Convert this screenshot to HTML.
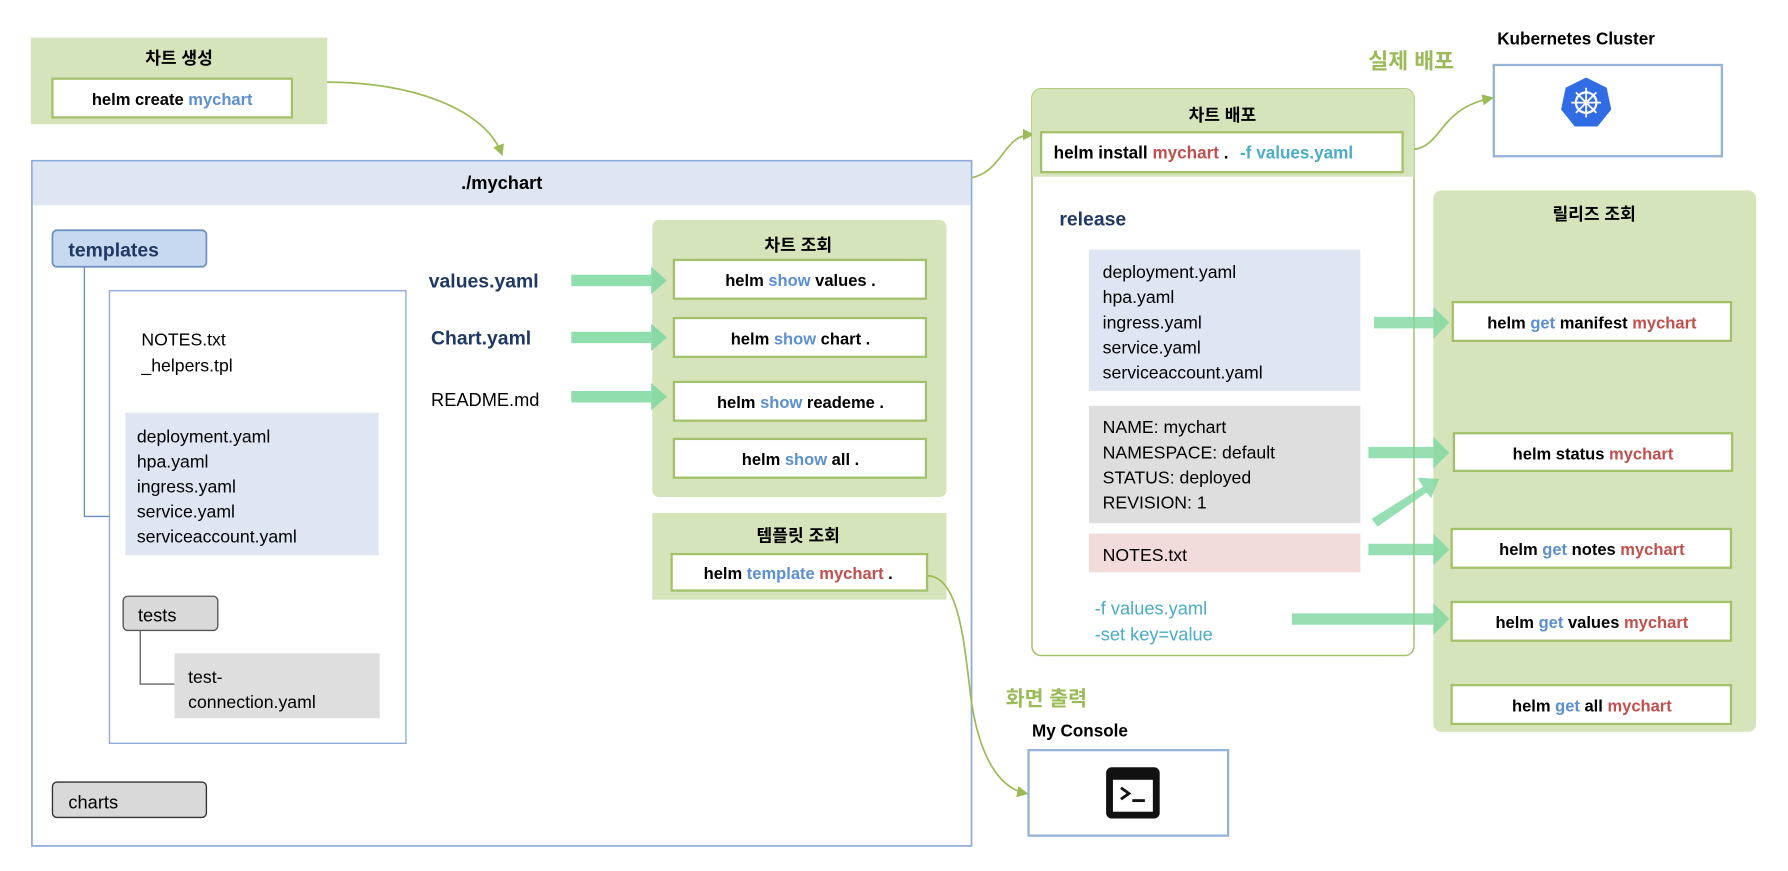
<!DOCTYPE html>
<html><head><meta charset="utf-8"><style>
html,body{margin:0;padding:0;background:#fff;}
svg{display:block;}
text{font-family:"Liberation Sans","Noto Sans CJK KR",sans-serif;}
.b{font-weight:bold;}
</style></head><body>
<svg width="1788" height="871" viewBox="0 0 1568 764" preserveAspectRatio="none" xmlns="http://www.w3.org/2000/svg">
<defs>
<marker id="ah" markerWidth="10" markerHeight="10" refX="8" refY="5" orient="auto" markerUnits="userSpaceOnUse"><path d="M0,0 L10,5 L0,10 z" fill="#9bbb59"/></marker>
</defs>
<rect width="1568" height="764" fill="#fff"/>

<!-- 차트 생성 -->
<rect x="27" y="33" width="260" height="76" fill="#d6e4bc"/>
<text x="157" y="56" font-size="15" class="b" text-anchor="middle">차트 생성</text>
<rect x="46" y="69" width="210" height="34" fill="#fff" stroke="#a3c16a" stroke-width="2"/>
<text x="151" y="92" font-size="14.5" class="b" text-anchor="middle">helm create <tspan fill="#5b8fcf">mychart</tspan></text>
<path d="M287,72 C360,72 425,95 440,135" fill="none" stroke="#9bbb59" stroke-width="1.5" marker-end="url(#ah)"/>

<!-- ./mychart -->
<rect x="28" y="141" width="824" height="601" fill="#fff" stroke="#8eaadb" stroke-width="1.5"/>
<rect x="29" y="142" width="822" height="38" fill="#dde6f2"/>
<text x="440" y="166" font-size="16" class="b" text-anchor="middle">./mychart</text>
<path d="M852,156 C880,150 880,118 905,118" fill="none" stroke="#9bbb59" stroke-width="1.5" marker-end="url(#ah)"/>

<rect x="46" y="202" width="135" height="32" rx="4" fill="#c6d9f1" stroke="#6c8ebf" stroke-width="1.5"/>
<text x="60" y="225" font-size="17" class="b" fill="#1f3864">templates</text>
<path d="M74,234 V453 H96" fill="none" stroke="#6c8ebf" stroke-width="1.2"/>
<rect x="96" y="255" width="260" height="397" fill="#fff" stroke="#8eaadb" stroke-width="1.2"/>
<text x="124" y="303" font-size="15.5">NOTES.txt</text>
<text x="124" y="326" font-size="15.5">_helpers.tpl</text>
<rect x="110" y="362" width="222" height="125" fill="#dde6f2"/>
<g font-size="15.5"><text x="120" y="388">deployment.yaml</text><text x="120" y="410">hpa.yaml</text><text x="120" y="432">ingress.yaml</text><text x="120" y="454">service.yaml</text><text x="120" y="476">serviceaccount.yaml</text></g>
<rect x="108" y="523" width="83" height="30" rx="4" fill="#d9d9d9" stroke="#555" stroke-width="1.2"/>
<text x="121" y="545" font-size="16">tests</text>
<path d="M123,553 V600 H153" fill="none" stroke="#666" stroke-width="1.2"/>
<rect x="153" y="573" width="180" height="57" fill="#dedede"/>
<text x="165" y="599" font-size="15.5">test-</text>
<text x="165" y="621" font-size="15.5">connection.yaml</text>
<rect x="46" y="686" width="135" height="31" rx="4" fill="#d9d9d9" stroke="#333" stroke-width="1.2"/>
<text x="60" y="709" font-size="16">charts</text>

<text x="376" y="252" font-size="17" class="b" fill="#1f3864">values.yaml</text>
<text x="378" y="302" font-size="17" class="b" fill="#1f3864">Chart.yaml</text>
<text x="378" y="356" font-size="16">README.md</text>

<!-- 차트 조회 -->
<rect x="572" y="193" width="258" height="243" rx="6" fill="#d6e4bc"/>
<text x="700" y="220" font-size="15" class="b" text-anchor="middle">차트 조회</text>
<g fill="#fff" stroke="#a3c16a" stroke-width="2">
<rect x="591" y="228" width="221" height="34"/><rect x="591" y="279" width="221" height="34"/><rect x="591" y="335" width="221" height="34"/><rect x="591" y="385" width="221" height="34"/></g>
<g font-size="14.5" class="b" text-anchor="middle">
<text x="702" y="251">helm <tspan fill="#5b8fcf">show</tspan> values .</text>
<text x="702" y="302">helm <tspan fill="#5b8fcf">show</tspan> chart .</text>
<text x="702" y="358">helm <tspan fill="#5b8fcf">show</tspan> reademe .</text>
<text x="702" y="408">helm <tspan fill="#5b8fcf">show</tspan> all .</text>
</g>
<g fill="#7dd8a0" opacity="0.85">
<path d="M501,241 h70 v-7 l14,12 l-14,12 v-7 h-70z"/>
<path d="M501,291 h70 v-7 l14,12 l-14,12 v-7 h-70z"/>
<path d="M501,343 h70 v-7 l14,12 l-14,12 v-7 h-70z"/>
</g>

<!-- 템플릿 조회 -->
<rect x="572" y="450" width="258" height="76" fill="#d6e4bc"/>
<text x="700" y="475" font-size="15" class="b" text-anchor="middle">템플릿 조회</text>
<rect x="589" y="486" width="224" height="32" fill="#fff" stroke="#a3c16a" stroke-width="2"/>
<text x="700" y="508" font-size="14.5" class="b" text-anchor="middle">helm <tspan fill="#5b8fcf">template</tspan> <tspan fill="#c0504d">mychart</tspan> .</text>
<path d="M813,505 C840,505 845,560 850,600 C855,650 870,690 900,696" fill="none" stroke="#9bbb59" stroke-width="1.5" marker-end="url(#ah)"/>

<!-- console -->
<text x="882" y="619" font-size="18" class="b" fill="#9bbb59">화면 출력</text>
<text x="905" y="646" font-size="15" class="b">My Console</text>
<rect x="902" y="658" width="175" height="75" fill="#fff" stroke="#95b3d7" stroke-width="2"/>
<rect x="970" y="673" width="47" height="45" rx="5" fill="#111"/>
<rect x="976" y="684" width="35" height="28" fill="#fff"/>
<path d="M983,691 l7,5 l-7,5" fill="none" stroke="#111" stroke-width="2.5"/>
<rect x="993" y="701" width="11" height="2.5" fill="#111"/>

<!-- 차트 배포 -->
<rect x="905" y="78" width="335" height="497" rx="8" fill="#fff" stroke="#a3c16a" stroke-width="1.3"/>
<path d="M913,78 h319 a8,8 0 0 1 8,8 v69 h-335 v-69 a8,8 0 0 1 8,-8z" fill="#d6e4bc"/>
<text x="1072" y="106" font-size="15" class="b" text-anchor="middle">차트 배포</text>
<rect x="913" y="116" width="317" height="35" fill="#fff" stroke="#a3c16a" stroke-width="2"/>
<text x="924" y="139" font-size="15" class="b">helm install <tspan fill="#c0504d">mychart</tspan> .  <tspan fill="#4bacc6" dx="6">-f values.yaml</tspan></text>
<text x="929" y="198" font-size="17" class="b" fill="#1f3864">release</text>
<rect x="955" y="219" width="238" height="124" fill="#dde6f2"/>
<g font-size="15.5"><text x="967" y="244">deployment.yaml</text><text x="967" y="266">hpa.yaml</text><text x="967" y="288">ingress.yaml</text><text x="967" y="310">service.yaml</text><text x="967" y="332">serviceaccount.yaml</text></g>
<rect x="955" y="356" width="238" height="103" fill="#dedede"/>
<g font-size="15.5"><text x="967" y="380">NAME: mychart</text><text x="967" y="402">NAMESPACE: default</text><text x="967" y="424">STATUS: deployed</text><text x="967" y="446">REVISION: 1</text></g>
<rect x="955" y="468" width="238" height="34" fill="#f2dcdb"/>
<text x="967" y="492" font-size="15.5">NOTES.txt</text>
<text x="960" y="539" font-size="16" fill="#4bacc6">-f values.yaml</text>
<text x="960" y="562" font-size="16" fill="#4bacc6">-set key=value</text>

<!-- k8s -->
<text x="1200" y="60" font-size="19" class="b" fill="#9bbb59">실제 배포</text>
<text x="1313" y="39" font-size="15" class="b">Kubernetes Cluster</text>
<rect x="1310" y="57" width="200" height="80" fill="#fff" stroke="#95b3d7" stroke-width="2"/>
<polygon points="1391,68 1409,77 1413,96 1401,111 1381,111 1369,96 1373,77" fill="#326ce5"/>
<circle cx="1391" cy="90" r="9" fill="none" stroke="#fff" stroke-width="2"/>
<g stroke="#fff" stroke-width="1.6"><path d="M1391,77 V103 M1378,90 H1404 M1382,81 L1400,99 M1400,81 L1382,99"/></g>
<path d="M1240,131 C1265,128 1262,95 1308,86" fill="none" stroke="#9bbb59" stroke-width="1.5" marker-end="url(#ah)"/>

<!-- 릴리즈 조회 -->
<rect x="1257" y="167" width="283" height="475" rx="7" fill="#d6e4bc"/>
<text x="1398" y="193" font-size="15" class="b" text-anchor="middle">릴리즈 조회</text>
<g fill="#fff" stroke="#a3c16a" stroke-width="2">
<rect x="1274" y="265" width="244" height="34"/><rect x="1275" y="380" width="244" height="33"/><rect x="1273" y="464" width="245" height="34"/><rect x="1273" y="528" width="245" height="34"/><rect x="1273" y="601" width="245" height="34"/></g>
<g font-size="14.5" class="b" text-anchor="middle">
<text x="1396" y="288">helm <tspan fill="#5b8fcf">get</tspan> manifest <tspan fill="#c0504d">mychart</tspan></text>
<text x="1397" y="403">helm status <tspan fill="#c0504d">mychart</tspan></text>
<text x="1396" y="487">helm <tspan fill="#5b8fcf">get</tspan> notes <tspan fill="#c0504d">mychart</tspan></text>
<text x="1396" y="551">helm <tspan fill="#5b8fcf">get</tspan> values <tspan fill="#c0504d">mychart</tspan></text>
<text x="1396" y="624">helm <tspan fill="#5b8fcf">get</tspan> all <tspan fill="#c0504d">mychart</tspan></text>
</g>
<g fill="#7dd8a0" opacity="0.8">
<path d="M1205,278 h52 v-9 l14,14 l-14,14 v-9 h-52z"/>
<path d="M1200,392 h57 v-9 l14,14 l-14,14 v-9 h-57z"/>
<path d="M1200,477 h57 v-9 l14,14 l-14,14 v-9 h-57z"/>
<path d="M1133,538 h124 v-9 l14,14 l-14,14 v-9 h-124z"/>
<path d="M1203,455 L1248,427 L1243,419 L1262,420 L1255,437 L1251,432 L1208,462z"/>
</g>
</svg>
</body></html>
